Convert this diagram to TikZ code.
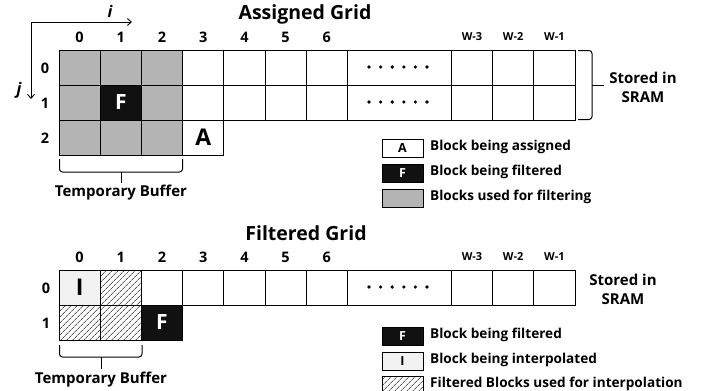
\documentclass[tikz,border=0pt]{standalone}
\usepackage{fontspec}
\setmainfont{Open Sans}
\usetikzlibrary{patterns.meta,arrows.meta}
\definecolor{gridgray}{HTML}{B4B4B4}
\definecolor{blk}{HTML}{111111}
\definecolor{ltgray}{HTML}{F2F2F2}
\begin{document}
\begin{tikzpicture}[x=1pt,y=-1pt,font=\bfseries,
  cell/.style={draw, line width=0.8pt, minimum width=41.2pt, minimum height=35pt, inner sep=0pt, outer sep=0pt, fill=white},
  graycell/.style={cell, fill=gridgray},
  blackcell/.style={cell, fill=blk, text=white, font=\bfseries\fontsize{21}{21}\selectfont},
  acell/.style={cell, font=\bfseries\fontsize{23}{23}\selectfont},
  icell/.style={cell, fill=ltgray, font=\bfseries\fontsize{23}{23}\selectfont},
  hatchcell/.style={cell, fill=white, postaction={pattern={Lines[angle=45,distance=4pt,line width=0.6pt]}}},
  dotscell/.style={cell, minimum width=104pt},
  collab/.style={font=\bfseries\fontsize{14.5}{14.5}\selectfont, inner sep=0pt},
  wlab/.style={font=\bfseries\fontsize{11}{11}\selectfont, inner sep=0pt},
  title/.style={font=\bfseries\fontsize{19.5}{19.5}\selectfont, inner sep=0pt},
  note/.style={font=\bfseries\fontsize{15}{19}\selectfont, inner sep=0pt, align=center},
  legbox/.style={draw, line width=0.8pt, minimum width=41pt, minimum height=18pt, inner sep=0pt, font=\bfseries\fontsize{12.5}{12.5}\selectfont},
  legtext/.style={anchor=west, font=\bfseries\fontsize{13.6}{13.6}\selectfont, inner sep=0pt},
  brace/.style={line width=1pt, rounded corners=3pt},
  dot/.style={fill=black, draw=none, circle, minimum size=3.6pt, inner sep=0pt}
]
\useasboundingbox (0,0) rectangle (710,391);

% ---------- Assigned grid ----------
\node[title] (t1) at (305,14) {Assigned Grid};

\coordinate (ax) at (31,22);
\coordinate (axi) at (132,22);
\coordinate (axj) at (31,99);
\draw[line width=0.9pt,-{Straight Barb[length=4pt,width=7pt]}] (ax) -- (axi);
\draw[line width=0.9pt,-{Straight Barb[length=4pt,width=7pt]}] (ax) -- (axj);
\node[font=\itshape\bfseries\fontsize{16}{16}\selectfont, inner sep=0pt] (li) at (110,11) {i};
\node[font=\itshape\bfseries\fontsize{16}{16}\selectfont, inner sep=0pt] (lj) at (19,90) {j};

% column labels
\foreach \c in {0,...,6}
  \node[collab] (ca\c) at ({59+41.2*(\c+0.5)},37) {\c};
\node[wlab] (caw3) at (472,37) {W-3};
\node[wlab] (caw2) at (513.2,37) {W-2};
\node[wlab] (caw1) at (554.4,37) {W-1};
% row labels
\node[collab] (ra0) at (45,68) {0};
\node[collab] (ra1) at (45,103) {1};
\node[collab] (ra2) at (45,138) {2};

% row 0
\foreach \c in {0,1,2}
  \node[graycell] (a0\c) at ({59+41.2*(\c+0.5)},67.5) {};
\foreach \c in {3,...,6}
  \node[cell] (a0\c) at ({59+41.2*(\c+0.5)},67.5) {};
\node[dotscell] (a0d) at (399.4,67.5) {};
\node[cell] (a0w3) at (472,67.5) {};
\node[cell] (a0w2) at (513.2,67.5) {};
\node[cell] (a0w1) at (554.4,67.5) {};
% row 1
\node[graycell] (a10) at (79.6,102.5) {};
\node[blackcell] (a11) at (120.8,102.5) {F};
\node[graycell] (a12) at (162,102.5) {};
\foreach \c in {3,...,6}
  \node[cell] (a1\c) at ({59+41.2*(\c+0.5)},102.5) {};
\node[dotscell] (a1d) at (399.4,102.5) {};
\node[cell] (a1w3) at (472,102.5) {};
\node[cell] (a1w2) at (513.2,102.5) {};
\node[cell] (a1w1) at (554.4,102.5) {};
% row 2
\foreach \c in {0,1,2}
  \node[graycell] (a2\c) at ({59+41.2*(\c+0.5)},137.5) {};
\node[acell] (a23) at (203.2,137.5) {A};

% dots
\foreach \k in {0,...,5} {
  \node[dot] at ({369+11.6*\k},67) {};
  \node[dot] at ({369+11.6*\k},102) {};
}

% SRAM bracket
\coordinate (b1a) at (578,50.5);
\coordinate (b1b) at (592,50.5);
\coordinate (b1c) at (592,85);
\coordinate (b1d) at (604,85);
\coordinate (b1e) at (592,119.5);
\coordinate (b1f) at (578,119.5);
\draw[brace] (b1a) -- (b1b) -- (b1c) -- (b1e) -- (b1f);
\draw[line width=1pt] (b1c) -- (b1d);
\node[note] (s1) at (643,87) {Stored in\\SRAM};

% temporary buffer bracket
\coordinate (tb1) at (59.5,159);
\coordinate (tb2) at (59.5,172);
\coordinate (tb3) at (182.5,172);
\coordinate (tb4) at (182.5,159);
\coordinate (tb5) at (121,172);
\coordinate (tb6) at (121,183);
\draw[brace] (tb1) -- (tb2) -- (tb3) -- (tb4);
\draw[line width=1pt] (tb5) -- (tb6);
\node[note] (tbl1) at (121,193) {Temporary Buffer};

% legend 1
\node[legbox] (lA) at (402.5,148) {A};
\node[legbox, fill=blk, text=white] (lF) at (402.5,173) {F};
\node[legbox, fill=gridgray] (lG) at (402.5,198) {};
\node[legtext] (lAt) at (430,147) {Block being assigned};
\node[legtext] (lFt) at (430,172) {Block being filtered};
\node[legtext] (lGt) at (430,197) {Blocks used for filtering};

% ---------- Filtered grid ----------
\node[title] (t2) at (306,233) {Filtered Grid};
\foreach \c in {0,...,6}
  \node[collab] (cb\c) at ({59+41.2*(\c+0.5)},257) {\c};
\node[wlab] (cbw3) at (472,257) {W-3};
\node[wlab] (cbw2) at (513.2,257) {W-2};
\node[wlab] (cbw1) at (554.4,257) {W-1};
\node[collab] (rb0) at (46,288) {0};
\node[collab] (rb1) at (46,323) {1};

\node[icell] (b00) at (79.6,287.5) {I};
\node[hatchcell] (b01) at (120.8,287.5) {};
\foreach \c in {2,...,6}
  \node[cell] (b0\c) at ({59+41.2*(\c+0.5)},287.5) {};
\node[dotscell] (b0d) at (399.4,287.5) {};
\node[cell] (b0w3) at (472,287.5) {};
\node[cell] (b0w2) at (513.2,287.5) {};
\node[cell] (b0w1) at (554.4,287.5) {};
\node[hatchcell] (b10) at (79.6,322.5) {};
\node[hatchcell] (b11) at (120.8,322.5) {};
\node[blackcell] (b12) at (162,322.5) {F};

\foreach \k in {0,...,5}
  \node[dot] at ({369+11.6*\k},287) {};

\node[note] (s2) at (623,289) {Stored in\\SRAM};

% temporary buffer bracket 2
\coordinate (tc1) at (59.5,345);
\coordinate (tc2) at (59.5,357);
\coordinate (tc3) at (142,357);
\coordinate (tc4) at (142,345);
\coordinate (tc5) at (101.5,357);
\coordinate (tc6) at (101.5,369);
\draw[brace] (tc1) -- (tc2) -- (tc3) -- (tc4);
\draw[line width=1pt] (tc5) -- (tc6);
\node[note] (tbl2) at (101,379.5) {Temporary Buffer};

% legend 2
\node[legbox, fill=blk, text=white] (mF) at (402.5,336) {F};
\node[legbox, fill=ltgray] (mI) at (402.5,361) {I};
\node[legbox, postaction={pattern={Lines[angle=45,distance=4pt,line width=0.6pt]}}] (mH) at (402.5,385) {};
\node[legtext] (mFt) at (430,335) {Block being filtered};
\node[legtext] (mIt) at (430,360) {Block being interpolated};
\node[legtext] (mHt) at (430,384) {Filtered Blocks used for interpolation};
\end{tikzpicture}
\end{document}
